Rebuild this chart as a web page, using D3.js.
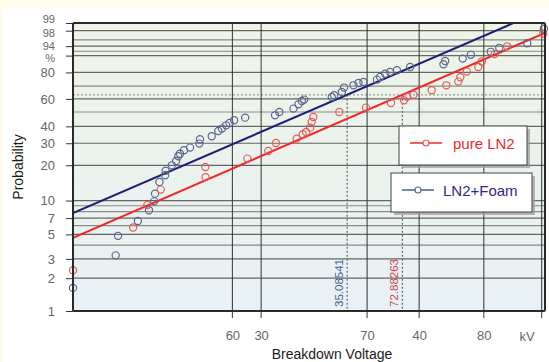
<!DOCTYPE html>
<html><head><meta charset="utf-8">
<script src="https://cdn.jsdelivr.net/npm/d3@7"></script>
<style>
html,body{margin:0;padding:0;background:#fdfbea;}
svg{display:block;font-family:"Liberation Sans",Arial,sans-serif;}
</style>
</head><body>
<svg id="chart" width="549" height="362"></svg>
<script>
// ---- data ----
// pure LN2 : breakdown voltage (kV, lower axis 60/70/80) and cumulative probability (%)
const redVoltage = [50.0, 53.56, 54.44, 55.28, 58.19, 58.17, 61.04, 62.52, 63.07, 64.58, 65.03, 65.28, 65.58, 65.70, 65.82, 67.81, 69.91, 71.94, 73.02, 73.28, 73.81, 75.37, 76.64, 77.70, 77.88, 78.46, 79.50, 79.81, 80.99, 82.16, 85.64];
const redProb    = [2.36, 5.76, 9.12, 12.45, 15.92, 19.35, 22.68, 26.10, 30.12, 32.52, 35.03, 36.42, 39.17, 42.90, 46.37, 49.98, 53.28, 56.81, 58.88, 61.63, 63.18, 66.70, 70.55, 73.37, 76.56, 80.55, 83.57, 86.87, 90.70, 93.94, 97.47];
// LN2+Foam : breakdown voltage (kV, second axis 30/40) and probability (%)
const blueVoltage = [21.3, 23.02, 23.12, 23.97, 24.46, 24.69, 24.73, 24.93, 25.19, 25.21, 25.50, 25.70, 25.80, 25.88, 26.07, 26.36, 26.81, 26.84, 27.42, 27.75, 27.93, 28.15, 28.32, 28.56, 29.14, 30.77, 31.01, 31.82, 32.11, 32.31, 32.44, 34.12, 34.26, 34.75, 34.89, 35.49, 35.82, 36.14, 37.04, 37.26, 37.60, 37.94, 38.41, 39.35, 41.81, 41.94, 43.30, 43.95, 45.57, 46.28, 48.70, 50.2];
const blueProb    = [1.63, 3.23, 4.85, 6.59, 8.21, 9.84, 11.49, 14.47, 16.5, 18.0, 19.98, 21.68, 23.67, 24.79, 26.42, 27.75, 29.8, 32.15, 33.85, 37.04, 38.54, 40.67, 42.2, 44.07, 45.94, 47.58, 49.98, 52.54, 55.79, 58.33, 59.43, 61.48, 62.81, 65.38, 68.82, 70.55, 72.31, 73.09, 74.87, 76.76, 79.16, 80.26, 81.43, 83.57, 85.22, 87.13, 88.46, 90.36, 91.74, 93.38, 94.97, 98.29];
// Weibull fits (scale eta shown on chart, shape beta)
const redFitEta = 72.88263, redFitBeta = 8.07;
const blueFitEta = 35.08541, blueFitBeta = 5.04;
const redEtaLabel = "72.88263", blueEtaLabel = "35.08541";
// axes
const redAxisTicks = [60, 70, 80];
const blueAxisTicks = [30, 40, 50];
const blueAxisLabels = ["30", "40", ""];
const probGrid = [1,2,3,4,5,6,7,8,9,10,20,30,40,50,60,70,80,90,92,94,96,98,99];
const probTicks = [1,2,3,5,7,10,20,30,40,60,80,90,94,98,99];
const probTickText = ["1","2","3","5","7","10","20","30","40","60","80","%","94","98","99"];
const seriesNames = ["pure LN2", "LN2+Foam"];
const colRed = "#f02828", colBlue = "#1e1e78";

// ---- layout ----
const L = 73, R = 545, T = 23, B = 311;
const svg = d3.select("#chart");
const weib = p => Math.log(-Math.log(1 - p / 100));

const y = d3.scaleLinear().domain([weib(1), weib(99)]).range([B, T]);
const xRed = d3.scaleLog().domain([50, 85.8]).range([L, R]).clamp(true);
const xBlue = d3.scaleLog().domain([21.3, 50.3]).range([L, R]).clamp(true);

// backgrounds
svg.append("rect").attr("x", 3).attr("y", 8).attr("width", 546).attr("height", 354).attr("fill", "#ffffff");
const defs = svg.append("defs");
const g1 = defs.append("linearGradient").attr("id", "bg").attr("x1", 0).attr("y1", 0).attr("x2", 0).attr("y2", 1);
g1.append("stop").attr("offset", "0").attr("stop-color", "#eef4e6");
g1.append("stop").attr("offset", "1").attr("stop-color", "#e8f1f5");
defs.append("clipPath").attr("id", "clip").append("rect").attr("x", L).attr("y", T).attr("width", R - L).attr("height", B - T);
svg.append("rect").attr("x", L).attr("y", T).attr("width", R - L).attr("height", B - T).attr("fill", "url(#bg)");

// horizontal grid
svg.append("g").selectAll("line").data(probGrid).join("line")
  .attr("x1", L).attr("x2", R)
  .attr("y1", d => y(weib(d))).attr("y2", d => y(weib(d)))
  .attr("stroke", d => probTicks.includes(d) ? "#666" : "#8a8a8a")
  .attr("stroke-width", 1.2);
// 63.2% line
svg.append("line").attr("x1", L).attr("x2", R).attr("y1", y(0)).attr("y2", y(0))
  .attr("stroke", "#999").attr("stroke-width", 1.2).attr("stroke-dasharray", "2,2");

// vertical grid + bottom ticks
const vg = svg.append("g");
vg.selectAll("line.r").data(redAxisTicks).join("line").attr("class", "r")
  .attr("x1", d => xRed(d)).attr("x2", d => xRed(d)).attr("y1", T).attr("y2", B + 7)
  .attr("stroke", "#333").attr("stroke-width", 1);
vg.selectAll("line.b").data(blueAxisTicks).join("line").attr("class", "b")
  .attr("x1", d => xBlue(d)).attr("x2", d => xBlue(d)).attr("y1", T).attr("y2", B + 7)
  .attr("stroke", "#333").attr("stroke-width", 1);

// x labels via axes
const axRed = d3.axisBottom(xRed).tickValues(redAxisTicks).tickFormat(d3.format("d")).tickSize(0).tickPadding(20);
const axBlue = d3.axisBottom(xBlue).tickValues(blueAxisTicks).tickFormat((d, i) => blueAxisLabels[i]).tickSize(0).tickPadding(20);
[axRed, axBlue].forEach(ax => {
  const g = svg.append("g").attr("transform", `translate(0,${B})`).call(ax);
  g.select(".domain").remove();
  g.selectAll("text").attr("fill", "#666").attr("font-size", 13).attr("font-family", "Liberation Sans, Arial, sans-serif");
});
svg.append("text").attr("x", 527).attr("y", B + 30).attr("text-anchor", "middle")
  .attr("fill", "#666").attr("font-size", 13).text("kV");

// y axis
const crowded = {"99": "-0.05em", "98": "0.5em", "94": "0.3em", "%": "0.55em"};
const yAx = d3.axisLeft(y).tickValues(probTicks.map(weib)).tickFormat((d, i) => probTickText[i]).tickSize(7).tickPadding(11);
const gy = svg.append("g").attr("transform", `translate(${L},0)`).call(yAx);
gy.select(".domain").remove();
gy.selectAll("line").attr("stroke", "#333");
gy.selectAll("text").attr("fill", "#666").attr("font-family", "Liberation Sans, Arial, sans-serif")
  .attr("font-size", (d, i) => crowded[probTickText[i]] ? 11 : 13)
  .attr("dy", (d, i) => crowded[probTickText[i]] || "0.32em");

// eta markers
const etaG = svg.append("g");
[[xBlue(blueFitEta), "#4a5a98", blueEtaLabel], [xRed(redFitEta), "#d04848", redEtaLabel]].forEach(([xp, c, t]) => {
  etaG.append("line").attr("x1", xp).attr("x2", xp).attr("y1", y(0)).attr("y2", B)
    .attr("stroke", "#666").attr("stroke-width", 1.2).attr("stroke-dasharray", "2,2");
  etaG.append("text").attr("transform", `translate(${xp - 4},${B - 4}) rotate(-90)`)
    .attr("fill", c).attr("font-size", 11.5).text(t);
});

// fit lines
const plot = svg.append("g").attr("clip-path", "url(#clip)");
function fitLine(scale, eta, beta) {
  const dom = scale.domain();
  return dom.map(v => [scale(v), y(beta * Math.log(v / eta))]);
}
plot.append("path").attr("d", d3.line()(fitLine(xRed, redFitEta, redFitBeta)))
  .attr("stroke", colRed).attr("stroke-width", 2).attr("fill", "none");
plot.append("path").attr("d", d3.line()(fitLine(xBlue, blueFitEta, blueFitBeta)))
  .attr("stroke", colBlue).attr("stroke-width", 2).attr("fill", "none");

// points
svg.append("g").selectAll("circle").data(blueVoltage.map((v, i) => [v, blueProb[i]])).join("circle")
  .attr("cx", d => xBlue(d[0])).attr("cy", d => y(weib(d[1]))).attr("r", 3.6)
  .attr("fill", "none").attr("stroke", "#5a6890").attr("stroke-width", 1.2);
svg.append("g").selectAll("circle").data(redVoltage.map((v, i) => [v, redProb[i]])).join("circle")
  .attr("cx", d => xRed(d[0])).attr("cy", d => y(weib(d[1]))).attr("r", 3.6)
  .attr("fill", "none").attr("stroke", "#e85a5a").attr("stroke-width", 1.2);

// frame
svg.append("rect").attr("x", L).attr("y", T).attr("width", R - L).attr("height", B - T)
  .attr("fill", "none").attr("stroke", "#2a2a2a").attr("stroke-width", 2).attr("rx", 1.5);

// legends
const legends = [
  {name: seriesNames[0], col: colRed, pt: "#e85a5a", bx: 399, by: 126, bw: 128, lx0: 410, lx1: 442, tx: 453},
  {name: seriesNames[1], col: "#2a2a8a", pt: "#5a6890", bx: 391, by: 173, bw: 141, lx0: 402, lx1: 434, tx: 443}
];
legends.forEach(l => {
  const g = svg.append("g");
  g.append("rect").attr("x", l.bx + 3).attr("y", l.by + 3).attr("width", l.bw).attr("height", 39).attr("fill", "#9a9a9a").attr("opacity", 0.7);
  g.append("rect").attr("x", l.bx).attr("y", l.by).attr("width", l.bw).attr("height", 39).attr("fill", "#fff").attr("stroke", "#444").attr("stroke-width", 1);
  const cy = l.by + 17;
  g.append("line").attr("x1", l.lx0).attr("x2", l.lx1).attr("y1", cy).attr("y2", cy).attr("stroke", l.col === colRed ? colRed : "#4a5a98").attr("stroke-width", 1.5);
  g.append("circle").attr("cx", (l.lx0 + l.lx1) / 2).attr("cy", cy).attr("r", 3).attr("fill", "#fff").attr("stroke", l.pt).attr("stroke-width", 1.2);
  g.append("text").attr("x", l.tx).attr("y", cy + 6).attr("fill", l.col).attr("font-size", 15).text(l.name);
});

// axis titles
svg.append("text").attr("transform", "translate(23,167) rotate(-90)").attr("text-anchor", "middle")
  .attr("fill", "#1a1a1a").attr("font-size", 14).text("Probability");
svg.append("text").attr("x", 332).attr("y", 359).attr("text-anchor", "middle")
  .attr("fill", "#1a1a1a").attr("font-size", 14).text("Breakdown Voltage");
</script>
</body></html>
